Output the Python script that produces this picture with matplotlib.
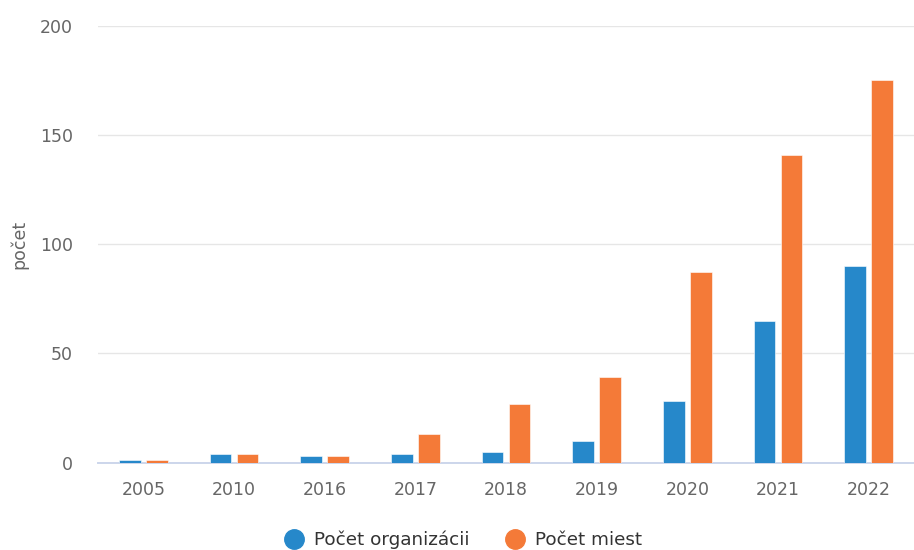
import matplotlib
matplotlib.use("Agg")
import matplotlib.pyplot as plt
import numpy as np
from matplotlib.lines import Line2D

years = ["2005", "2010", "2016", "2017", "2018", "2019", "2020", "2021", "2022"]
organizacie = [1, 4, 3, 4, 5, 10, 28, 65, 90]
miesta = [1, 4, 3, 13, 27, 39, 87, 141, 175]
series_names = ["Počet organizácii", "Počet miest"]
y_ticks = [0, 50, 100, 150, 200]

blue = "#2688ca"
orange = "#f47a38"

plt.rcParams['font.family'] = ['DejaVu Sans']

fig = plt.figure(figsize=(9.14, 5.5), dpi=100)
ax = fig.add_axes([98/914, 1 - 462.5/550, 1 - 98/914, (462.5 - 25.7)/550])

x = np.arange(len(years))
w = 0.24
off = 0.15
ax.bar(x - off, organizacie, width=w, color=blue, edgecolor="white", linewidth=0.4, zorder=3)
ax.bar(x + off, miesta, width=w, color=orange, edgecolor="white", linewidth=0.4, zorder=3)

ax.set_xlim(-0.5, len(years) - 0.5)
ax.set_ylim(0, 200)
ax.set_yticks(y_ticks)
ax.set_xticks(x)
ax.set_xticklabels(years)
ax.yaxis.grid(True, color="#e6e6e6", linewidth=1, zorder=0)
ax.set_axisbelow(True)
for s in ["top", "right", "left"]:
    ax.spines[s].set_visible(False)
ax.spines["bottom"].set_color("#ccd6eb")
ax.spines["bottom"].set_linewidth(1.4)
ax.spines["bottom"].set_zorder(2)
ax.tick_params(axis="y", length=0, pad=18, labelsize=12.5, labelcolor="#666666")
ax.tick_params(axis="x", length=0, pad=13, labelsize=12.5, labelcolor="#666666")
ax.set_ylabel("počet", fontsize=12.5, color="#666666", labelpad=8.5)

handles = [Line2D([0], [0], marker="o", linestyle="none", markersize=14,
                  markerfacecolor=c, markeredgecolor=c) for c in (blue, orange)]
fig.legend(handles, series_names, loc="center", bbox_to_anchor=(0.507, 0.018),
           ncol=2, frameon=False, fontsize=13.25, labelcolor="#333333",
           handlelength=1.0, handletextpad=0.55, columnspacing=2.0, borderpad=0)

fig.savefig("out.png", dpi=100)
